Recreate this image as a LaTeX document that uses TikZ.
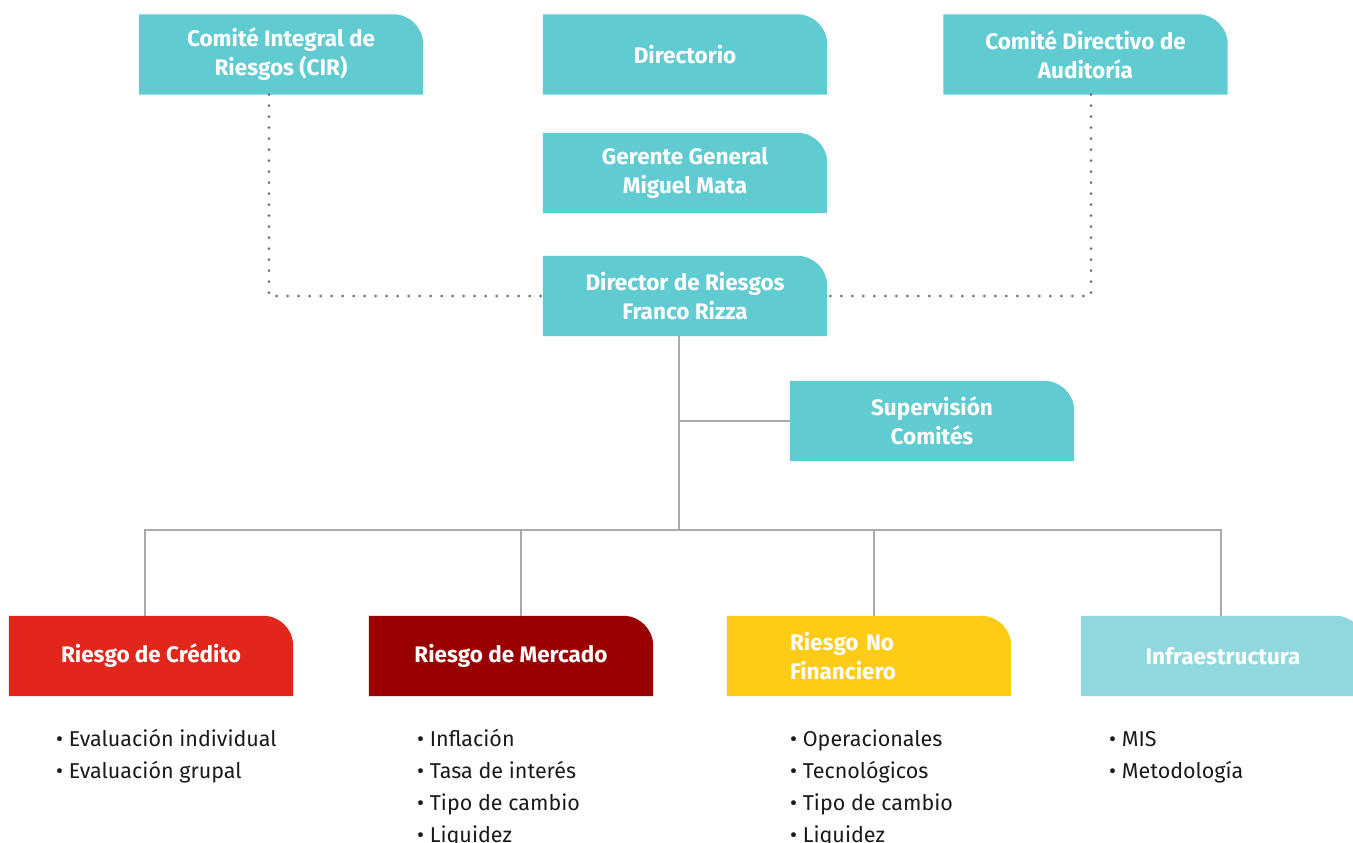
\documentclass[tikz,border=0pt]{standalone}
\usepackage{fontspec}
\setmainfont{Fira Sans}
\usepackage{tikz}
\usetikzlibrary{positioning}
\definecolor{tealbox}{RGB}{96,203,209}
\definecolor{tealsoft}{RGB}{143,217,222}
\definecolor{credred}{RGB}{225,38,28}
\definecolor{mercred}{RGB}{153,0,0}
\definecolor{nofinyel}{RGB}{254,204,23}
\definecolor{linegray}{RGB}{170,170,170}
\definecolor{dotgray}{RGB}{110,110,110}
\definecolor{ink}{RGB}{26,26,26}
\pgfdeclarelayer{bg}
\pgfsetlayers{bg,main}

\begin{document}
\begin{tikzpicture}[
  x=1pt, y=-1pt,
  box/.style={minimum width=284pt, minimum height=80pt, inner sep=0pt, align=center,
    text=white, font=\bfseries\fontsize{22.5}{29}\selectfont},
  items/.style={anchor=north west, inner sep=0pt, align=left, text=ink,
    font=\fontsize{21.5}{32}\selectfont},
  link/.style={draw=linegray, line width=2pt},
  dots/.style={draw=dotgray, line width=3pt, line cap=round, dash pattern=on 0pt off 11pt}
]
\useasboundingbox (0,0) rectangle (1353,843);

% Top level
\node[box] (cir)   at (281,54.5)   {Comité Integral de\\Riesgos (CIR)};
\node[box] (dirio) at (685,54.5)   {Directorio};
\node[box] (cda)   at (1085.5,54.5) {Comité Directivo de\\Auditoría};
\node[box] (gg)    at (685,173)    {Gerente General\\Miguel Mata};
\node[box] (dr)    at (685,296)    {Director de Riesgos\\Franco Rizza};
\node[box] (sup)   at (932,421)    {Supervisión\\Comités};

% Risk areas
\node[box] (cred)  at (151,656)  {Riesgo de Crédito};
\node[box] (merc)  at (511,656)  {Riesgo de Mercado};
\node[box, text width=158pt, inner xsep=63pt, align=left] (nofin) at (869,656) {Riesgo No\\Financiero};
\node[box] (infra) at (1223,656) {Infraestructura};

% Box backgrounds (only top right corner rounded)
\begin{pgfonlayer}{bg}
\foreach \n/\c in {cir/tealbox, dirio/tealbox, cda/tealbox, gg/tealbox, dr/tealbox, sup/tealbox,
  cred/credred, merc/mercred, nofin/nofinyel, infra/tealsoft}{
  \fill[\c] (\n.south west) -- (\n.north west) -- ([xshift=-30pt]\n.north east)
    .. controls ([xshift=-13.4pt]\n.north east) and ([yshift=-13.4pt]\n.north east)
    .. ([yshift=-30pt]\n.north east) -- (\n.south east) -- cycle;
}
\end{pgfonlayer}

% Dotted links
\draw[dots] ([xshift=-12pt]cir.south) |- (dr.west);
\draw[dots] ([xshift=5.5pt]cda.south) |- (dr.east);

% Tree
\coordinate (bus) at (679,530);
\draw[link] ([xshift=-6pt]dr.south) -- (bus);
\draw[link] (sup.west) -- (sup.west -| bus);
\draw[link] ([xshift=-6pt]cred.north) |- (bus);
\draw[link] ([xshift=10pt]merc.north) |- (bus);
\draw[link] ([xshift=5pt]nofin.north) |- (bus);
\draw[link] ([xshift=-2pt]infra.north) |- (bus);

% Item lists
\node[items] (credl)  at (56,723.6)   {\strut• Evaluación individual\\• Evaluación grupal};
\node[items] (mercl)  at (417,723.6)  {\strut• Inflación\\• Tasa de interés\\• Tipo de cambio\\• Liquidez};
\node[items] (nofinl) at (790,723.6)  {\strut• Operacionales\\• Tecnológicos\\• Tipo de cambio\\• Liquidez};
\node[items] (infral) at (1109,723.6) {\strut• MIS\\• Metodología};

\end{tikzpicture}
\end{document}
